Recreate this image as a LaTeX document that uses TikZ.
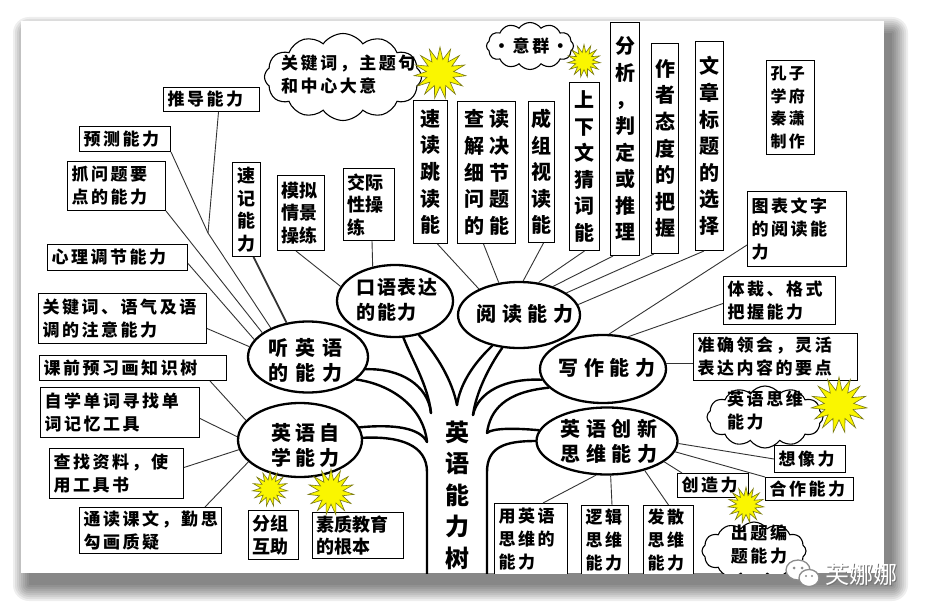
\documentclass[tikz,border=0pt]{standalone}
\usepackage{fontspec}
\newfontfamily\cjkn{Noto Sans CJK SC}
\newfontfamily\cjk{Noto Sans CJK SC}[LetterSpace=15]
\usetikzlibrary{shapes.geometric,shapes.symbols,calc}
\definecolor{burstfill}{RGB}{250,246,0}
\definecolor{burstline}{RGB}{120,120,20}
\newcommand{\fb}{\cjk\bfseries\fontsize{17}{23}\selectfont}
\newcommand{\fs}{\cjkn\bfseries\fontsize{18}{22.5}\selectfont}
\newcommand{\fv}{\cjkn\bfseries\fontsize{20}{26.6}\selectfont}
\newcommand{\fk}{\cjk\bfseries\fontsize{16}{22.5}\selectfont}
\newcommand{\fe}[2]{\cjkn\bfseries\fontsize{#1}{25}\selectfont\addfontfeature{LetterSpace=#2}}
\newcommand{\ft}{\cjkn\bfseries\fontsize{24}{31.5}\selectfont}
\newcommand{\bx}[7][]{%
  \pgfmathsetmacro\bxw{#5-#3}\pgfmathsetmacro\bxh{#6-#4}\pgfmathsetmacro\bxt{#5-#3-8}%
  \node[tb,minimum width=\bxw pt,minimum height=\bxh pt,text width=\bxt pt,#1] (#2) at (#3,#4) {#7};}
\newcommand{\bv}[7][]{%
  \pgfmathsetmacro\bxw{#5-#3}\pgfmathsetmacro\bxh{#6-#4}\pgfmathsetmacro\bxt{#5-#3-2}%
  \node[tb,inner xsep=1pt,align=center,font=\fv,minimum width=\bxw pt,minimum height=\bxh pt,text width=\bxt pt,#1] (#2) at (#3,#4) {#7};}
\begin{document}
\begin{tikzpicture}[x=1pt,y=-1pt,
  tb/.style={draw=black,line width=1pt,fill=white,inner xsep=4pt,inner ysep=0pt,anchor=north west,align=left,font=\fb},
  ell/.style={ellipse,draw=black,line width=2.3pt,fill=white,inner sep=0pt},
  conn/.style={draw=black!80,line width=0.9pt},
  tree/.style={draw=black,line width=2.4pt,line cap=round},
  cloudst/.style={cloud,cloud puffs=12,cloud puff arc=110,cloud ignores aspect,draw=black,line width=1.1pt,fill=white,inner sep=0pt},
  burst/.style={star,star points=15,star point ratio=1.9,fill=burstfill,draw=burstline,line width=0.6pt,inner sep=0pt},
  lbl/.style={inner sep=0pt,align=left}]
\useasboundingbox (0,0) rectangle (926,615);
\fill[white] (0,0) rectangle (926,615);
\foreach \r in {0,2,...,16}
  \fill[black,opacity=0.065,rounded corners=\r pt] (29-\r,33-\r) rectangle (892+\r,585+\r);
\fill[white] (21,21) rectangle (884,573);
\begin{scope}
\clip (21,21) rectangle (884,573);
% ellipses
\node[ell,minimum width=120pt,minimum height=71pt] (ting) at (308,357) {};
\node[ell,minimum width=124pt,minimum height=74pt] (zixue) at (300,440) {};
\node[ell,minimum width=116pt,minimum height=72pt] (kouyu) at (395,301) {};
\node[ell,minimum width=122pt,minimum height=66pt] (yuedu) at (519,315) {};
\node[ell,minimum width=126pt,minimum height=68pt] (xiezuo) at (603,369) {};
\node[ell,minimum width=141pt,minimum height=67pt] (chuangxin) at (607,441) {};
\node[lbl,font=\fe{20}{35}] (tingt) at (305,360) {听英语\\的能力};
\node[lbl,font=\fe{20}{20}] (zixuet) at (305,445) {英语自\\学能力};
\node[lbl,font=\fe{19}{10}] (kouyut) at (397,300) {口语表达\\的能力};
\node[lbl,font=\fe{20}{27}] (yuedut) at (525,314) {阅读能力};
\node[lbl,font=\fe{20}{27}] (xiezuot) at (607,368) {写作能力};
\node[lbl,font=\fe{20}{27}] (chuangxint) at (609,441) {英语创新\\思维能力};
% left boxes
\bx{tuidao}{163}{87}{259}{111}{推导能力}
\bx{yuce}{79}{126}{170}{151}{预测能力}
\bx{zhua}{67}{161}{165}{210}{抓问题要\\点的能力}
\bv[font=\fs]{suji}{232}{162}{260}{256}{速\\记\\能\\力}
\bx[font=\fs]{moni}{277}{175}{324}{250}{模拟\\情景\\操练}
\bx[font=\fs]{jiaoji}{343}{168}{394}{240}{交际\\性操\\练}
\bx{xinli}{47}{244}{187}{270}{心理调节能力}
\bx{yuqi}{38}{293}{206}{343}{关键词、语气及语\\调的注意能力}
\bx{keqian}{39}{355}{226}{380}{课前预习画知识树}
\bx{zixuew}{40}{387}{199}{437}{自学单词寻找单\\词记忆工具}
\bx{chazhao}{49}{448}{183}{498}{查找资料，使\\用工具书}
\bx{tongdu}{79}{507}{221}{553}{通读课文，勤思\\勾画质疑}
\bx[font=\fs]{fenzu}{248}{510}{298}{559}{分组\\互助}
\bx[font=\fs]{suzhi}{312}{512}{403}{558}{素质教育\\的根本}
% top boxes
\bv{sudu}{413}{100}{447}{243}{速\\读\\跳\\读\\能}
\bv{chadu}{457}{101}{515}{243}{查\hspace{5pt}读\\解\hspace{5pt}决\\细\hspace{5pt}节\\问\hspace{5pt}题\\的\hspace{5pt}能}
\bv{chengzu}{528}{101}{554}{242}{成\\组\\视\\读\\能}
\bv{shangxia}{569}{82}{599}{250}{上\\下\\文\\猜\\词\\能}
\bv{fenxi}{610}{22}{639}{255}{分\\析\\，\\判\\定\\或\\推\\理}
\bv{zuozhe}{651}{43}{678}{253}{作\\者\\态\\度\\的\\把\\握}
\bv{wenzhang}{695}{41}{723}{250}{文\\章\\标\\题\\的\\选\\择}
% right boxes
\bx[font=\fk]{kongzi}{766}{60}{814}{154}{孔子\\学府\\秦潇\\制作}
\bx{tubiao}{747}{191}{846}{266}{图表文字\\的阅读能\\力}
\bx{ticai}{723}{276}{835}{324}{体裁、格式\\把握能力}
\bx{zhunque}{693}{333}{857}{380}{准确领会，灵活\\表达内容的要点}
\bx{xiangxiang}{774}{445}{845}{472}{想像力}
\bx{hezuo}{765}{477}{853}{500}{合作能力}
\bx{chuangzao}{677}{473}{748}{497}{创造力}
\bx{yong}{494}{503}{567}{575}{用英语\\思维的\\能力}
\bx{luoji}{581}{505}{628}{575}{逻辑\\思维\\能力}
\bx{fasan}{643}{505}{693}{575}{发散\\思维\\能力}
% clouds
\node[cloudst,minimum width=157pt,minimum height=87pt] (cl1) at (343,77) {};
\node[lbl,font=\fb,anchor=west] (cl1t) at (281,74) {关键词，主题句\\和中心大意};
\node[cloudst,minimum width=87pt,minimum height=47pt] (cl2) at (530,46) {};
\node[lbl,font=\fb] (cl2t) at (531,46) {·意群·};
\node[cloudst,minimum width=116pt,minimum height=62pt] (cl3) at (765,417) {};
\node[lbl,font=\fb,anchor=west] (cl3t) at (727,411) {英语思维\\能力};
\node[cloudst,minimum width=104pt,minimum height=58pt] (cl4) at (754,551) {};
\node[lbl,font=\fb,align=center] (cl4t) at (759,545) {出题编\\题能力};
% tree
\coordinate (CLK) at (431,413);
\coordinate (CJT) at (427,442);
\coordinate (CKY) at (457,405);
\coordinate (CYX) at (473,415);
\coordinate (CXC) at (487,433);
\draw[tree] (kouyu.283) .. controls (412,360) and (428,385) .. (CLK);
\draw[tree] (ting.348) .. controls (400,368) and (428,385) .. (CLK);
\draw[tree] (ting.335) .. controls (395,385) and (424,410) .. (CJT);
\draw[tree] (zixue.12) .. controls (395,424) and (420,428) .. (CJT);
\draw[tree] (zixue.2) .. controls (400,436) and (427,445) .. (427,472) -- (427,590);
\draw[tree] (kouyu.305) .. controls (437,355) and (452,380) .. (CKY);
\draw[tree] (yuedu.229) .. controls (472,365) and (460,385) .. (CKY);
\draw[tree] (yuedu.243) .. controls (490,365) and (476,392) .. (CYX);
\draw[tree] (xiezuo.190) .. controls (505,378) and (478,392) .. (CYX);
\draw[tree] (xiezuo.199) .. controls (505,392) and (490,410) .. (CXC);
\draw[tree] (chuangxin.171) .. controls (515,428) and (492,428) .. (CXC);
\draw[tree] (chuangxin.180) .. controls (505,441) and (487,447) .. (487,472) -- (487,590);
\node[font=\ft,align=center,inner sep=0pt] (trunk) at (457,495) {英\\语\\能\\力\\树};
% connectors
\coordinate (J1) at (208,233);
\draw[conn] ($(tuidao.south)+(7,0)$) -- (J1);
\draw[conn] (yuce.south east) -- (J1);
\draw[conn] (J1) -- (ting.142);
\draw[conn] (zhua.south east) -- (ting.152);
\draw[conn] ($(xinli.east)+(0,6)$) -- (ting.162);
\draw[conn] ($(yuqi.east)+(0,10)$) -- (ting.170);
\draw[conn,line width=1.8pt] ($(suji.south)+(7,0)$) -- (ting.122);
\draw[conn] ($(keqian.south east)+(-17,0)$) -- (zixue.160);
\draw[conn] ($(zixuew.east)+(0,6)$) -- (zixue.177);
\draw[conn] ($(chazhao.east)+(0,-6)$) -- (zixue.189);
\draw[conn] ($(tongdu.north east)+(-17,0)$) -- (zixue.203);
\draw[conn] ($(jiaoji.south)+(3,0)$) -- (kouyu.123);
\draw[conn] ($(moni.south)+(-5,0)$) -- (kouyu.165);
\draw[conn] ($(sudu.south)+(7,0)$) -- (yuedu.147);
\draw[conn] ($(chadu.south)+(-3,0)$) -- (yuedu.122);
\draw[conn] ($(chengzu.south)+(2,0)$) -- (yuedu.83);
\draw[conn] (shangxia.south) -- (yuedu.59);
\draw[conn] ($(fenxi.south west)+(3,0)$) -- (yuedu.40);
\draw[conn] ($(zuozhe.south west)+(3,0)$) -- (yuedu.25);
\draw[conn] ($(wenzhang.south west)+(9,0)$) -- (yuedu.10);
\draw[conn] ($(tubiao.west)+(0,16)$) -- (xiezuo.80);
\draw[conn] ($(ticai.west)+(0,3)$) -- (xiezuo.52);
\draw[conn] (xiezuo.5) -- (xiezuo.5 -| zhunque.west);
\draw[conn] (chuangxin.358) -- (xiangxiang.west);
\draw[conn] (chuangxin.351) -- (hezuo.north west);
\draw[conn] (chuangxin.340) -- ($(chuangzao.north west)+(5,0)$);
\draw[conn] (chuangxin.322) -- (fasan.north);
\draw[conn] (chuangxin.276) -- ($(luoji.north)+(7,0)$);
\draw[conn] (chuangxin.252) -- ($(yong.north)+(12,0)$);
% bursts
\node[burst,minimum size=52pt] (s1) at (440,73) {};
\node[burst,minimum size=33pt] (s2) at (584,61) {};
\node[burst,minimum size=35pt] (s3) at (270,489) {};
\node[burst,minimum size=46pt] (s4) at (331,492) {};
\node[burst,minimum size=56pt] (s5) at (839,405) {};
\node[burst,minimum size=36pt] (s6) at (746,505) {};
\end{scope}
% watermark
\begin{scope}[shift={(802,573)}]
  \draw[black!45,line width=1.3pt,fill=white] (-4,-3) ellipse (12 and 10);
  \draw[black!45,line width=1.3pt,fill=white] (7,5) ellipse (10 and 8.5);
  \fill[black!45] (-8,-5) circle (1.5) (0,-5) circle (1.5) (4,3) circle (1.2) (10,3) circle (1.2);
\end{scope}
\node[font=\cjkn\fontsize{24}{24}\selectfont,text=black!55] (wm0) at (862.5,575.5) {芙娜娜};
\node[font=\cjkn\fontsize{24}{24}\selectfont,text=white] (wm) at (861,574) {芙娜娜};
\end{tikzpicture}
\end{document}
